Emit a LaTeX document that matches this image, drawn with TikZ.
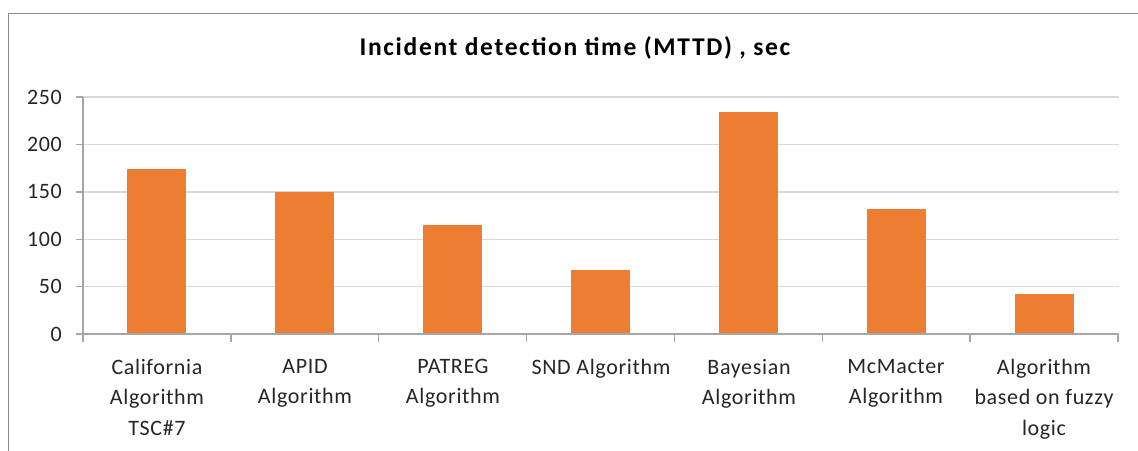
\documentclass[tikz,border=0pt]{standalone}
\usepackage{fontspec}
\setmainfont{Carlito}
\newfontfamily\lblfont[LetterSpace=3]{Carlito}
\newfontfamily\ttlfont[LetterSpace=6.5]{Carlito}
\definecolor{barc}{HTML}{ED7D31}
\definecolor{gridc}{HTML}{D9D9D9}
\definecolor{axisc}{HTML}{A6A6A6}
\definecolor{framec}{HTML}{8C8C8C}
\definecolor{txtc}{HTML}{262626}
\begin{document}
\begin{tikzpicture}[x=1pt,y=-1pt,
  bar/.style={fill=barc,draw=none},
  gridline/.style={draw=gridc,line width=1.4pt},
  axisline/.style={draw=axisc,line width=1.4pt},
  ylab/.style={anchor=east,inner sep=0pt,text=txtc,font=\lblfont\fontsize{22}{22}\selectfont},
  xlab/.style={anchor=north,inner sep=0pt,align=center,text=txtc,font=\lblfont\fontsize{22}{30.5}\selectfont},
  titlestyle/.style={inner sep=0pt,text=black,font=\ttlfont\fontsize{25.5}{25.5}\selectfont\bfseries}]
\useasboundingbox (0,0) rectangle (1138,450);
\fill[white] (0,0) rectangle (1138,450);
% frame (cropped at right and bottom)
\draw[framec,line width=1.6pt] (8.5,452) -- (8.5,13.3) -- (1140,13.3);
% title
\node[titlestyle] (title) at (575,48) {Incident detection time (MTTD) , sec};
% gridlines and y labels
\foreach \v in {50,100,150,200,250}{
  \draw[gridline] (83,{334-0.948*\v}) -- (1119,{334-0.948*\v});
}
\foreach \v in {0,50,100,150,200,250}{
  \node[ylab] (y\v) at (62,{334-0.948*\v}) {\v};
  \draw[axisline] (76,{334-0.948*\v}) -- (83,{334-0.948*\v});
}
% bars
\foreach \i/\val in {0/174,1/150,2/115,3/67,4/234,5/132,6/42}{
  \pgfmathsetmacro{\cx}{83+147.86*(\i+0.5)}
  \fill[bar] ({\cx-29.5},334) rectangle ({\cx+29.5},{334-0.948*\val});
}
% axes
\draw[axisline] (83,97) -- (83,342);
\draw[axisline] (76,334) -- (1119,334);
\foreach \i in {1,...,7}{
  \draw[axisline] ({83+147.86*\i},334) -- ({83+147.86*\i},342);
}
% category labels
\node[xlab] (c1) at (157,359) {California\\Algorithm\\TSC\#7};
\node[xlab] (c2) at (305,359) {APID\\Algorithm};
\node[xlab] (c3) at (453,359) {PATREG\\Algorithm};
\node[xlab] (c4) at (601,359) {SND Algorithm};
\node[xlab] (c5) at (749,359) {Bayesian\\Algorithm};
\node[xlab] (c6) at (896,359) {McMacter\\Algorithm};
\node[xlab] (c7) at (1044,359) {Algorithm\\based on fuzzy\\logic};
\end{tikzpicture}
\end{document}
